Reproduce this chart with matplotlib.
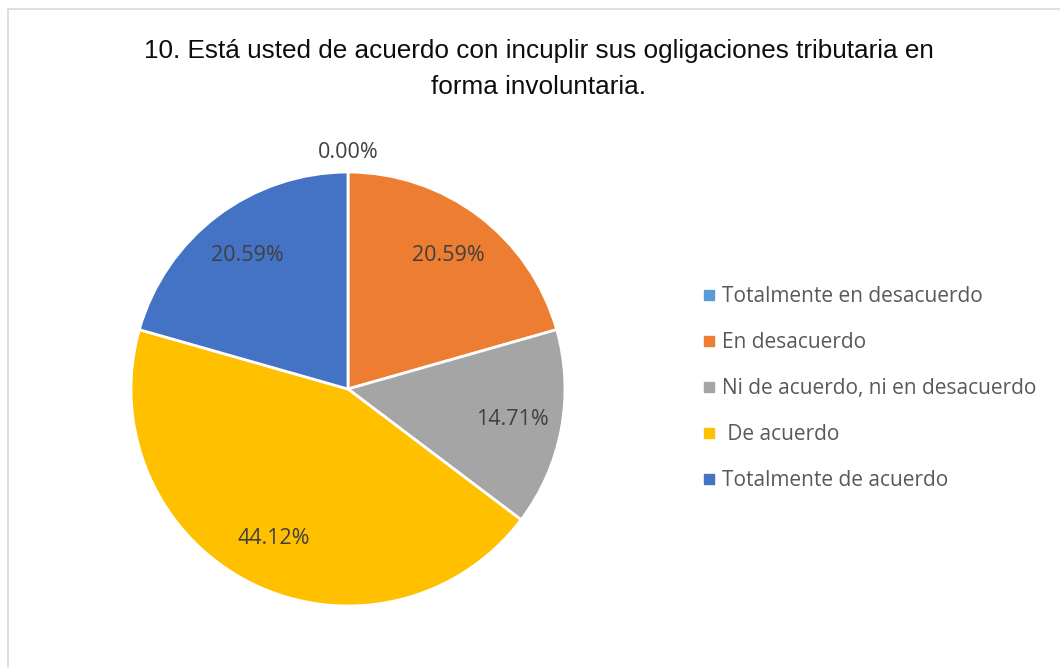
import matplotlib
matplotlib.use("Agg")
import matplotlib.pyplot as plt
from matplotlib.lines import Line2D
from matplotlib.patches import Rectangle

title = "10. Está usted de acuerdo con incuplir sus ogligaciones tributaria en\nforma involuntaria."
categories = [
    "Totalmente en desacuerdo",
    "En desacuerdo",
    "Ni de acuerdo, ni en desacuerdo",
    " De acuerdo",
    "Totalmente de acuerdo",
]
values = [0.00, 20.59, 14.71, 44.12, 20.59]
colors = ["#5B9BD5", "#ED7D31", "#A5A5A5", "#FFC000", "#4472C4"]

fig = plt.figure(figsize=(10.6, 6.68), dpi=100)
fig.patches.append(Rectangle((7.5 / 1060, -0.01), 1.1, (668 - 9.5) / 668 + 0.01,
                             transform=fig.transFigure, fill=False,
                             edgecolor="#D9D9D9", linewidth=1.2))

fig.text(0.508, 0.897, title, ha="center", va="center", fontsize=18.8,
         family="Liberation Sans", color="#0D0D0D", linespacing=1.62)

ax = fig.add_axes([0.1236, 0.0928, 0.4094, 0.6497])
wedges, texts, autotexts = ax.pie(
    values, colors=colors, startangle=90, counterclock=False,
    autopct="%.2f%%", pctdistance=0.77,
    wedgeprops=dict(edgecolor="white", linewidth=2),
    textprops=dict(fontsize=15.5, color="#404040", family="Open Sans"),
)
# the empty slice gets its label outside, above the pie
for v, t in zip(values, autotexts):
    if v == 0:
        x, y = t.get_position()
        t.set_position((x, 1.09))
ax.set_xlim(-1, 1)
ax.set_ylim(-1, 1)
ax.set_aspect("equal")

handles = [Line2D([0], [0], marker="s", linestyle="none", markersize=7,
                  markerfacecolor=c, markeredgecolor=c) for c in colors]
leg = fig.legend(handles, categories, loc="center left",
                 bbox_to_anchor=(0.645, 0.418), frameon=False,
                 handlelength=0.6, handletextpad=0.35, labelspacing=1.2,
                 prop=dict(family="Open Sans", size=15))
for t in leg.get_texts():
    t.set_color("#595959")

fig.savefig("out.png", dpi=100)
